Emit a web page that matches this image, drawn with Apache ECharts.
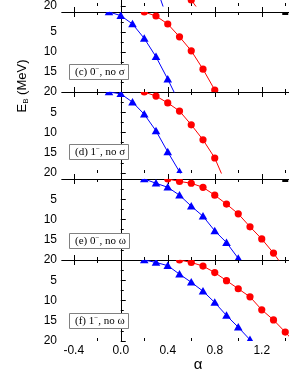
<!DOCTYPE html>
<html><head><meta charset="utf-8">
<script src="https://cdn.jsdelivr.net/npm/echarts@6/dist/echarts.min.js"></script>
<style>html,body{margin:0;padding:0;background:#fff;overflow:hidden}#c{width:289px;height:374px}</style>
</head><body><div id="c"></div>
<script>
// ---- data (alpha, binding energy E_B in MeV) ----
const xMajorTicks = [-0.4, 0.0, 0.4, 0.8, 1.2];
const xMinorTicks = [-0.2, 0.2, 0.6, 1.0, 1.4];
const yTicks = [0, 5, 10, 15, 20];

// panel (b) (cut off at top)
const bBlueA = [0.2, 0.3, 0.4];
const bBlueE = [9, 15, 23.5];
const bRedA = [0.5, 0.6, 0.7];
const bRedE = [13.5, 18.5, 22.5];
// panel (c) 0-, no sigma
const cBlueA = [-0.1, 0.0, 0.1, 0.2, 0.3, 0.4, 0.5];
const cBlueE = [0, 0.9, 3.0, 6.6, 11.2, 16.8, 22.8];
const cRedA = [0.2, 0.3, 0.4, 0.5, 0.6, 0.7, 0.8, 0.9];
const cRedE = [0, 1.0, 3.0, 6.2, 9.7, 14.3, 19.5, 25];
const cBlackA = [1.4];
const cBlackE = [0];
// panel (d) 1-, no sigma
const dBlueA = [-0.1, 0.0, 0.1, 0.2, 0.3, 0.4, 0.5, 0.6];
const dBlueE = [0, 0.45, 2.5, 5.5, 9.6, 14.8, 19.7, 25.5];
const dRedA = [0.2, 0.3, 0.4, 0.5, 0.6, 0.7, 0.8, 0.9];
const dRedE = [0, 1.0, 2.7, 4.7, 8.1, 11.8, 16.3, 23];
// panel (e) 0-, no omega
const eBlueA = [0.2, 0.3, 0.4, 0.5, 0.6, 0.7, 0.8, 0.9, 1.0, 1.1];
const eBlueE = [0, 1.05, 2.05, 4.0, 6.7, 9.2, 12.8, 15.7, 19.6, 23.5];
const eRedA = [0.4, 0.5, 0.6, 0.7, 0.8, 0.9, 1.0, 1.1, 1.2, 1.3, 1.4];
const eRedE = [0, 0.6, 1.05, 2.05, 4.0, 6.2, 8.6, 11.8, 14.8, 18.3, 22.3];
const eBlackA = [1.4];
const eBlackE = [0];
// panel (f) 1-, no omega
const fBlueA = [0.2, 0.3, 0.4, 0.5, 0.6, 0.7, 0.8, 0.9, 1.0, 1.1];
const fBlueE = [0, 0.6, 1.4, 3.5, 5.5, 7.7, 10.5, 13.7, 16.6, 19.7];
const fRedA = [0.5, 0.6, 0.7, 0.8, 0.9, 1.0, 1.1, 1.2, 1.3, 1.4, 1.5];
const fRedE = [0, 0.6, 1.5, 3.1, 5.1, 7.1, 9.1, 12.3, 14.8, 17.8, 21];

const panelLabels = [null, ['(c) 0', ', no σ'], ['(d) 1', ', no σ'], ['(e) 0', ', no ω'], ['(f) 1', ', no ω']];

// ---- layout ----
const gridBase = {left: 62, width: 235, containLabel: false, outerBoundsMode: 'none'};
const grids = [
  Object.assign({top: -74, height: 80}, gridBase),
  Object.assign({top: 12, height: 80}, gridBase),
  Object.assign({top: 92, height: 81}, gridBase),
  Object.assign({top: 179, height: 81}, gridBase),
  Object.assign({top: 260, height: 81}, gridBase)
];
const labelTops = [null, 64, 144, 233, 313];

const FONT = 'Liberation Sans, Arial, sans-serif';
const SERIF = 'Liberation Serif, Times New Roman, serif';
const BLUE = '#0000ff', RED = '#ff0000';

const xAxes = [], yAxes = [];
grids.forEach((g, gi) => {
  const base = {type: 'value', gridIndex: gi, min: -0.5, max: 1.5, splitLine: {show: false}};
  const line = {show: true, lineStyle: {color: '#000', width: 1}};
  ['bottom', 'top'].forEach(pos => {
    xAxes.push(Object.assign({}, base, {
      position: pos, axisLine: line,
      axisTick: {show: true, inside: true, length: 5, customValues: xMajorTicks, lineStyle: {color: '#000'}},
      axisLabel: {show: pos === 'bottom' && gi === 4, customValues: xMajorTicks,
        formatter: v => v.toFixed(1), fontSize: 12, color: '#000', margin: 4, fontFamily: FONT}
    }));
    xAxes.push(Object.assign({}, base, {
      position: pos, axisLine: {show: false},
      axisTick: {show: true, inside: true, length: 3, customValues: xMinorTicks, lineStyle: {color: '#000'}},
      axisLabel: {show: false}
    }));
  });
  yAxes.push({
    type: 'value', gridIndex: gi, min: 0, max: 20, interval: 5, inverse: true, position: 'left',
    axisLine: line, splitLine: {show: false},
    axisTick: {show: true, inside: true, length: 5, lineStyle: {color: '#000'}},
    minorTick: {show: true, splitNumber: 2, length: 3, lineStyle: {color: '#000'}},
    axisLabel: {formatter: v => (v === 0 ? '' : String(v)), fontSize: 12, color: '#000', margin: 5, fontFamily: FONT}
  });
});

function zip(A, E) { return A.map((a, i) => [a, E[i]]); }
function lineSeries(gi, A, E, color) {
  return {type: 'line', xAxisIndex: gi * 4, yAxisIndex: gi, data: zip(A, E), showSymbol: false,
    symbol: 'none', clip: true, lineStyle: {color: color, width: 1}, z: 2, silent: true, animation: false};
}
function markerSeries(gi, A, E, shape, color) {
  return {
    type: 'custom', xAxisIndex: gi * 4, yAxisIndex: gi, data: zip(A, E), clip: true, z: 3,
    silent: true, animation: false, encode: {x: 0, y: 1},
    renderItem: (params, api) => {
      const p = api.coord([api.value(0), api.value(1)]);
      if (shape === 'circle') return {type: 'circle', shape: {cx: p[0], cy: p[1], r: 3.6}, style: {fill: color}};
      if (shape === 'rect') return {type: 'rect', shape: {x: p[0] - 3, y: p[1] - 3, width: 6, height: 6}, style: {fill: color}};
      return {type: 'polygon', shape: {points: [[p[0], p[1] - 4.2], [p[0] + 4.3, p[1] + 3.3], [p[0] - 4.3, p[1] + 3.3]]}, style: {fill: color}};
    }
  };
}

const panels = [
  [bBlueA, bBlueE, bRedA, bRedE, null, null],
  [cBlueA, cBlueE, cRedA, cRedE, cBlackA, cBlackE],
  [dBlueA, dBlueE, dRedA, dRedE, null, null],
  [eBlueA, eBlueE, eRedA, eRedE, eBlackA, eBlackE],
  [fBlueA, fBlueE, fRedA, fRedE, null, null]
];
const series = [];
panels.forEach((p, gi) => {
  series.push(lineSeries(gi, p[0], p[1], BLUE));
  series.push(lineSeries(gi, p[2], p[3], RED));
  series.push(markerSeries(gi, p[0], p[1], 'tri', BLUE));
  series.push(markerSeries(gi, p[2], p[3], 'circle', RED));
  if (p[4]) series.push(markerSeries(gi, p[4], p[5], 'rect', '#000'));
});

const titles = [];
panelLabels.forEach((lab, gi) => {
  if (!lab) return;
  titles.push({
    text: '{t|' + lab[0] + '}{s|−}{t|' + lab[1] + '}',
    left: 69, top: labelTops[gi],
    padding: [2, 4, 2, 6], backgroundColor: '#fff', borderColor: '#808080', borderWidth: 1,
    textStyle: {fontWeight: 'normal', rich: {
      t: {fontFamily: SERIF, fontSize: 11, fontWeight: 'normal', lineHeight: 13, color: '#000'},
      s: {fontFamily: SERIF, fontSize: 7, fontWeight: 'normal', lineHeight: 7, verticalAlign: 'top', color: '#000'}
    }}
  });
});

const chart = echarts.init(document.getElementById('c'), null, {renderer: 'canvas'});
chart.setOption({
  animation: false,
  backgroundColor: '#fff',
  title: titles,
  grid: grids,
  xAxis: xAxes,
  yAxis: yAxes,
  series: series,
  graphic: [
    {type: 'text', x: 22, y: 86, rotation: Math.PI / 2, silent: true,
      style: {text: '{e|E}{b|B}{e| (MeV)}', align: 'center', verticalAlign: 'middle',
        rich: {e: {fontFamily: FONT, fontSize: 13, lineHeight: 16, fill: '#000'},
               b: {fontFamily: FONT, fontSize: 8, lineHeight: 9, verticalAlign: 'bottom', fill: '#000'}}}},
    {type: 'text', x: 198, y: 365, silent: true,
      style: {text: 'α', align: 'center', verticalAlign: 'middle', fontFamily: FONT, fontSize: 15, fill: '#000'}}
  ]
});
</script></body></html>
